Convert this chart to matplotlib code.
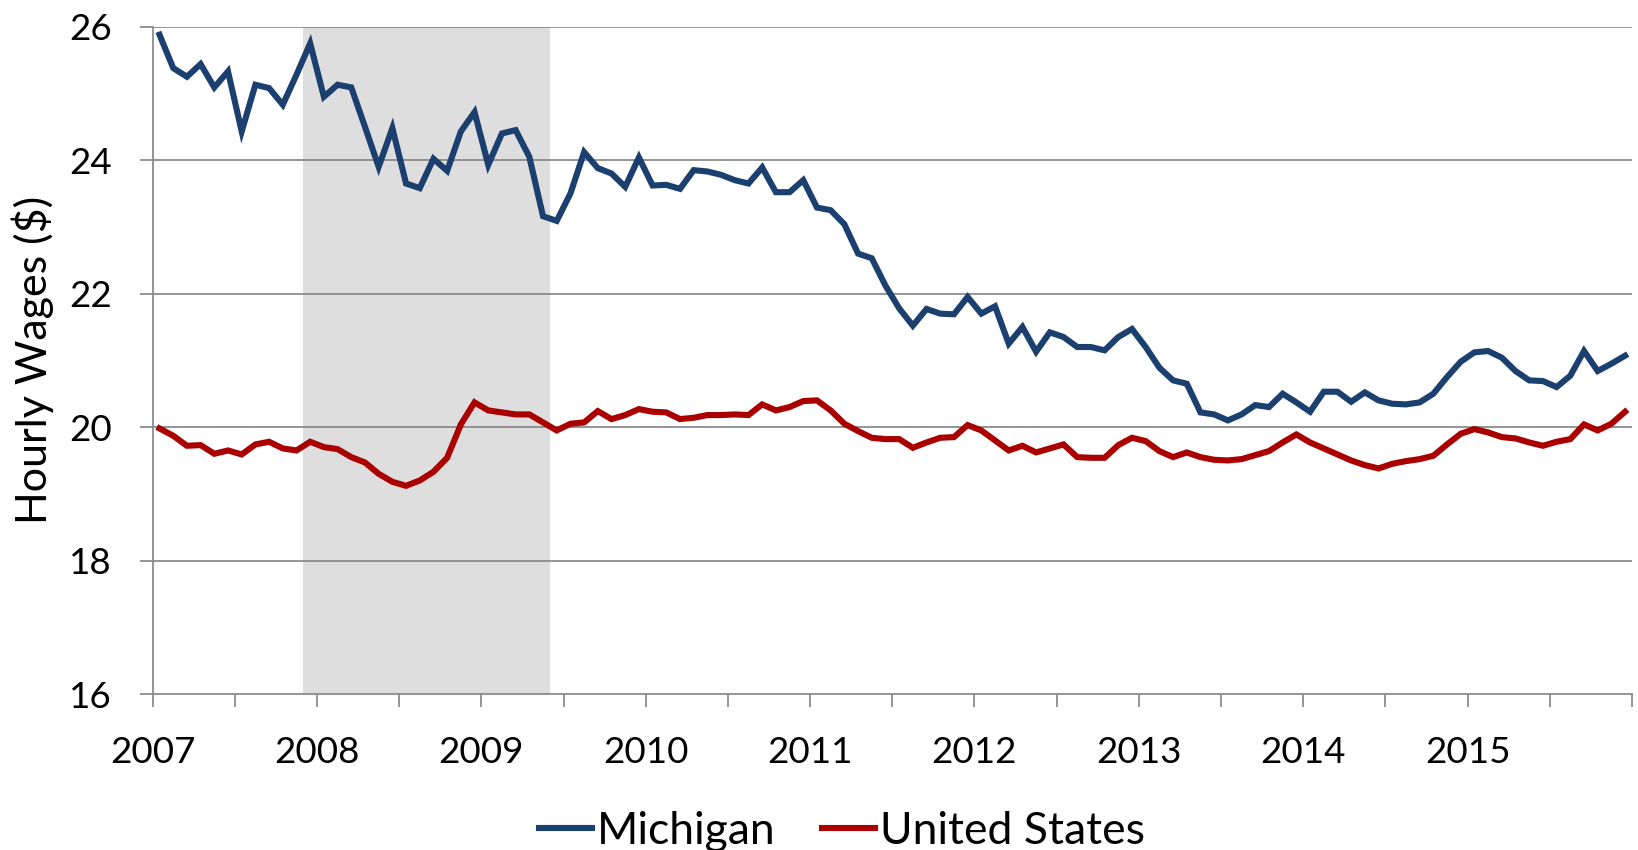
import numpy as np
import matplotlib
matplotlib.use("Agg")
import matplotlib.pyplot as plt

plt.rcParams['font.family'] = ['Lato', 'DejaVu Sans']

# monthly hourly wages, Jan 2007 - Dec 2015
michigan = [
    25.88, 25.38, 25.25, 25.44, 25.09, 25.33, 24.43, 25.13, 25.08, 24.83, 25.28, 25.75,
    24.95, 25.13, 25.09, 24.50, 23.90, 24.48, 23.65, 23.58, 24.02, 23.84, 24.43, 24.72,
    23.93, 24.40, 24.45, 24.05, 23.16, 23.09, 23.50, 24.12, 23.88, 23.80, 23.60, 24.04,
    23.62, 23.63, 23.57, 23.85, 23.83, 23.78, 23.70, 23.65, 23.89, 23.52, 23.52, 23.70,
    23.29, 23.25, 23.04, 22.60, 22.53, 22.12, 21.78, 21.52, 21.77, 21.70, 21.69, 21.95,
    21.70, 21.81, 21.25, 21.50, 21.13, 21.42, 21.35, 21.20, 21.20, 21.15, 21.35, 21.47,
    21.20, 20.89, 20.70, 20.65, 20.22, 20.19, 20.10, 20.19, 20.33, 20.30, 20.50, 20.37,
    20.23, 20.53, 20.53, 20.38, 20.52, 20.40, 20.35, 20.34, 20.37, 20.50, 20.75, 20.98,
    21.12, 21.14, 21.04, 20.84, 20.70, 20.69, 20.60, 20.77, 21.14, 20.84, 20.95, 21.07,
]
united_states = [
    19.98, 19.87, 19.72, 19.73, 19.60, 19.65, 19.59, 19.74, 19.78, 19.68, 19.65, 19.78,
    19.70, 19.67, 19.55, 19.47, 19.30, 19.18, 19.12, 19.20, 19.33, 19.54, 20.04, 20.37,
    20.25, 20.22, 20.19, 20.19, 20.07, 19.95, 20.05, 20.07, 20.24, 20.12, 20.18, 20.27,
    20.23, 20.22, 20.12, 20.14, 20.18, 20.18, 20.19, 20.18, 20.34, 20.25, 20.30, 20.39,
    20.40, 20.25, 20.05, 19.94, 19.84, 19.82, 19.82, 19.69, 19.77, 19.84, 19.85, 20.03,
    19.95, 19.80, 19.65, 19.72, 19.62, 19.68, 19.74, 19.55, 19.54, 19.54, 19.73, 19.84,
    19.79, 19.64, 19.55, 19.62, 19.55, 19.51, 19.50, 19.52, 19.58, 19.64, 19.77, 19.89,
    19.77, 19.68, 19.59, 19.50, 19.43, 19.38, 19.45, 19.49, 19.52, 19.57, 19.74, 19.90,
    19.97, 19.92, 19.85, 19.83, 19.77, 19.72, 19.78, 19.82, 20.04, 19.95, 20.05, 20.23,
]
start_year = 2007
year_labels = ['2007', '2008', '2009', '2010', '2011', '2012', '2013', '2014', '2015', '']
recession = (2007 + 11 / 12, 2009 + 5 / 12)
y_ticks = [16, 18, 20, 22, 24, 26]

n = len(michigan)
x = start_year + (np.arange(n) + 0.5) / 12

fig = plt.figure(figsize=(16.38, 8.5), dpi=100)
ax = fig.add_axes([0.0932, 0.1835, 0.9031, 0.7851])

grid_col = '#8c8c8c'
ax.axvspan(*recession, color='#dedede', lw=0, zorder=0.2)
for v in y_ticks[1:]:
    ax.axhline(v, color=grid_col, lw=1.3, zorder=0.5)

ax.plot(x, michigan, color='#1b3f6e', lw=4.4, label='Michigan', zorder=3,
        solid_joinstyle='miter')
ax.plot(x, united_states, color='#aa0000', lw=4.4, label='United States', zorder=3,
        solid_joinstyle='miter')

ax.set_xlim(start_year, start_year + n / 12)
ax.set_ylim(16, 26)
ax.set_yticks(y_ticks)
ax.set_yticklabels([str(v) for v in y_ticks])
ax.set_xticks(np.arange(start_year, start_year + n / 12 + 0.01, 0.5))
xt = []
for lab in year_labels:
    xt += [lab, '']
ax.set_xticklabels(xt[:len(ax.get_xticks())])

for s in ['top', 'right']:
    ax.spines[s].set_visible(False)
for s in ['left', 'bottom']:
    ax.spines[s].set_color(grid_col)
    ax.spines[s].set_linewidth(1.3)

ax.tick_params(axis='both', direction='out', length=9.3, width=1.3,
               color=grid_col, labelsize=26.5, labelcolor='black')
ax.tick_params(axis='x', pad=21)
ax.tick_params(axis='y', pad=20)

ax.set_ylabel('Hourly Wages ($)', fontsize=31)
ax.yaxis.set_label_coords(-0.067, 0.5)

fig.legend(loc='center', bbox_to_anchor=(0.514, 1 - 831 / 850), ncol=2,
           frameon=False, fontsize=32, handlelength=1.2, handletextpad=0.1,
           columnspacing=1.05)

fig.savefig('out.png', dpi=100, facecolor='white')
